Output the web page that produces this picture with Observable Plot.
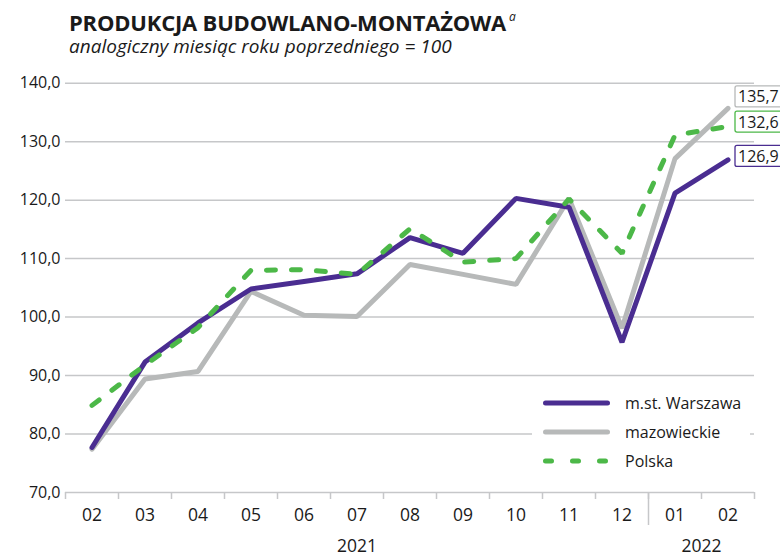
<!DOCTYPE html>
<html>
<head>
<meta charset="utf-8">
<script src="https://cdn.jsdelivr.net/npm/d3@7"></script>
<script src="https://cdn.jsdelivr.net/npm/@observablehq/plot@0.6"></script>
<style>
  body { margin: 0; background: #fff; }
  #wrap { position: relative; width: 780px; height: 558px; overflow: hidden; font-family: "Open Sans", sans-serif; color: #1a1a1a; background: #fff; }
  #title { position: absolute; left: 69px; top: 11px; font-size: 22px; font-weight: 700; line-height: 22px; white-space: nowrap; letter-spacing: -0.2px; }
  #title sup { font-size: 12px; font-weight: 400; font-style: italic; vertical-align: top; position: relative; top: -5px; margin-left: 3px; }
  #subtitle { position: absolute; left: 69px; top: 37px; font-size: 19px; font-style: italic; line-height: 19px; white-space: nowrap; }
  #chart { position: absolute; left: 0; top: 62px; }
  #legend { position: absolute; left: 532px; top: 386px; width: 218px; height: 90px; background: #fff; }
  .lg-row { position: absolute; left: 0; height: 20px; width: 218px; }
  .lg-row svg { position: absolute; left: 0; top: 0; }
  .lg-row span { position: absolute; left: 93px; top: 0; line-height: 20px; font-size: 16px; white-space: nowrap; }
</style>
</head>
<body>
<div id="wrap">
  <div id="title">PRODUKCJA BUDOWLANO-MONTAŻOWA<sup>a</sup></div>
  <div id="subtitle">analogiczny miesiąc roku poprzedniego = 100</div>
  <div id="chart"></div>
  <div id="legend"></div>
</div>
<script>
// ---- data ----
const months = ["02","03","04","05","06","07","08","09","10","11","12","01","02"];
const yearLabels = ["2021","2022"];
const warszawa    = [77.7, 92.3, 99.0, 104.8, 106.1, 107.4, 113.6, 110.9, 120.3, 118.8, 95.7, 121.2, 126.9];
const mazowieckie = [77.4, 89.4, 90.7, 104.4, 100.3, 100.1, 109.0, 107.3, 105.6, 120.3, 98.1, 127.1, 135.7];
const polska      = [84.9, 91.8, 98.2, 108.0, 108.1, 107.3, 115.1, 109.4, 110.0, 120.2, 110.9, 131.1, 132.6];
const seriesNames = ["m.st. Warszawa", "mazowieckie", "Polska"];
const yTicks = [70, 80, 90, 100, 110, 120, 130, 140];

// ---- styles ----
const colors = {"m.st. Warszawa": "#4a2d91", "mazowieckie": "#b7b9b9", "Polska": "#4cb848"};
const dashes = {"m.st. Warszawa": null, "mazowieckie": null, "Polska": "9,16"};
const labelDy = {"m.st. Warszawa": -3, "mazowieckie": -11, "Polska": -4};
const drawOrder = ["mazowieckie", "m.st. Warszawa", "Polska"];

// ---- derived tables ----
let yi = 0;
const rows = months.map((m, i) => {
  if (i > 0 && m === "01") yi++;
  return {i, pos: i + 0.5, month: m, year: yearLabels[yi]};
});
const yearGroups = yearLabels.map(y => {
  const r = rows.filter(d => d.year === y);
  return {year: y, center: (r[0].i + r[r.length - 1].i + 1) / 2};
});
const boundaries = d3.range(months.length + 1);
const separators = rows.filter((d, k) => k > 0 && d.year !== rows[k - 1].year).map(d => d.i);
const valuesBySeries = {"m.st. Warszawa": warszawa, "mazowieckie": mazowieckie, "Polska": polska};
const data = seriesNames.flatMap(s => valuesBySeries[s].map((v, i) => ({series: s, pos: i + 0.5, value: v})));
const lastPoints = seriesNames.map(s => data.filter(d => d.series === s).at(-1));

const fmt = d => d.toFixed(1).replace(".", ",");
const grid = "#c6c7c9";

const plot = Plot.plot({
  width: 780,
  height: 496,
  marginLeft: 65,
  marginRight: 26,
  marginTop: 20.7,
  marginBottom: 66,
  x: {type: "linear", domain: [0, months.length]},
  y: {domain: [70, 140]},
  style: {fontFamily: "'Open Sans', sans-serif", fontSize: "16px", color: "#1a1a1a", background: "transparent", overflow: "visible"},
  marks: [
    Plot.ruleY(yTicks, {stroke: grid, strokeWidth: 1.5}),
    Plot.axisY({ticks: yTicks, tickSize: 0, tickPadding: 5, tickFormat: fmt, fontSize: 16, fill: "#1a1a1a", label: null}),
    Plot.axisX({ticks: boundaries, tickSize: 7, tickFormat: () => "", stroke: grid, strokeWidth: 1.5, label: null}),
    Plot.axisX({ticks: separators, tickSize: 33, tickFormat: () => "", stroke: grid, strokeWidth: 1.5, label: null}),
    Plot.text(rows, {x: "pos", text: "month", frameAnchor: "bottom", dy: 28.5, fontSize: 17.5, fill: "#1a1a1a"}),
    Plot.text(yearGroups, {x: "center", text: "year", frameAnchor: "bottom", dy: 59, fontSize: 17.5, fill: "#1a1a1a"}),
    ...drawOrder.map(s => Plot.line(data.filter(d => d.series === s), {
      x: "pos", y: "value", stroke: colors[s], strokeWidth: 5,
      strokeLinejoin: "miter", strokeLinecap: "round",
      strokeDasharray: dashes[s] || undefined
    })),
    ...lastPoints.map(p => Plot.text([p], {
      x: "pos", y: "value", text: d => fmt(d.value), dx: 10, dy: labelDy[p.series],
      textAnchor: "start", fontSize: 16, fill: "#1a1a1a"
    }))
  ]
});
document.getElementById("chart").appendChild(plot);

// framed boxes behind end labels (last three text groups, in seriesNames order)
const textGroups = Array.from(plot.querySelectorAll('g[aria-label="text"]'));
const endGroups = textGroups.slice(-lastPoints.length);
endGroups.forEach((g, k) => {
  const s = lastPoints[k].series;
  const t = g.querySelector("text");
  const b = t.getBBox();
  const tr = t.getAttribute("transform");
  const r = d3.select(g).insert("rect", () => t)
    .attr("x", b.x - 3).attr("y", b.y + 0.5)
    .attr("width", b.width + 14).attr("height", b.height - 1)
    .attr("rx", 2).attr("ry", 2)
    .attr("fill", "#fff").attr("stroke", colors[s]).attr("stroke-width", 1.3);
  if (tr) r.attr("transform", tr);
});

// legend
const legend = d3.select("#legend");
seriesNames.forEach((s, k) => {
  const row = legend.append("div").attr("class", "lg-row").style("top", (7 + k * 29) + "px");
  const sv = row.append("svg").attr("width", 90).attr("height", 20);
  sv.append("line").attr("x1", 13.5).attr("x2", 75.5).attr("y1", 10).attr("y2", 10)
    .attr("stroke", colors[s]).attr("stroke-width", 5).attr("stroke-linecap", "round")
    .attr("stroke-dasharray", s === "Polska" ? "6,21" : null);
  row.append("span").text(s);
});
</script>
</body>
</html>
